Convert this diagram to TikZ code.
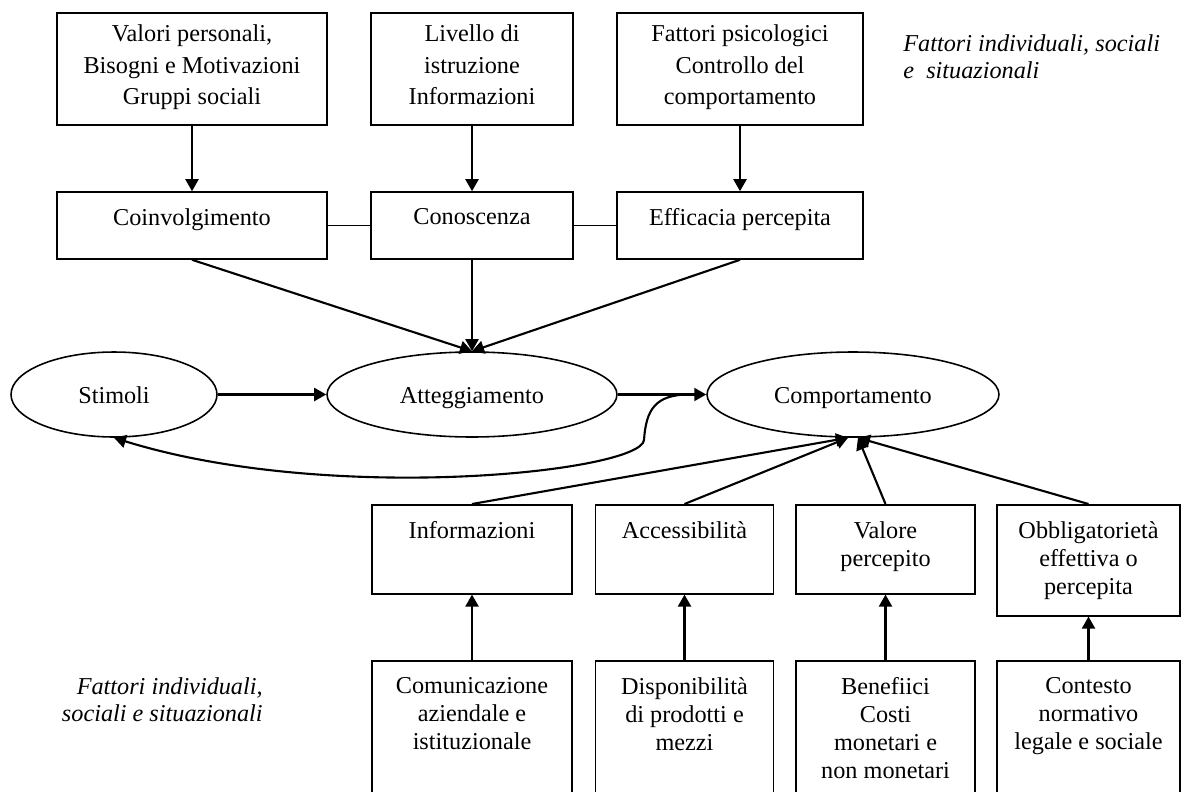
\documentclass[tikz,border=0pt]{standalone}
\usepackage{fontspec}
\setmainfont{Liberation Serif}
\usetikzlibrary{positioning, arrows.meta, shapes, calc}

\begin{document}
\begin{tikzpicture}[
        x=0.02cm, y=-0.02cm,
        factor/.style={rectangle, draw, line width=0.9pt, inner sep=0pt},
        concept/.style={ellipse, draw, line width=0.9pt, inner sep=0pt, minimum height=1.7cm, text height=12pt, text depth=1.5pt, font=\fontsize{13.8}{16}\selectfont},
        boxtext/.style={inner sep=0pt, align=center, font=\fontsize{13.8}{16}\selectfont},
        note/.style={inner sep=0pt, font=\fontsize{13.8}{15.5}\selectfont\itshape},
        link/.style={-{Triangle[length=0.24cm, width=0.26cm]}, line width=1.2pt},
        tie/.style={line width=0.9pt}
    ]
    \useasboundingbox (0,0) rectangle (1192,791);
    \clip (0,0) rectangle (1192,791);

    % fattori in alto
    \node[factor, minimum width=5.4cm, minimum height=2.24cm] (valori) at (192,69) {};
    \node[factor, minimum width=4.04cm, minimum height=2.24cm] (livello) at (472,69) {};
    \node[factor, minimum width=4.92cm, minimum height=2.24cm] (psico) at (740,69) {};
    \node[boxtext, font=\fontsize{13.8}{18}\selectfont, below=0.24cm of valori.north] (valori-t) {Valori personali,\\Bisogni e Motivazioni\\Gruppi sociali};
    \node[boxtext, font=\fontsize{13.8}{18}\selectfont, below=0.24cm of livello.north] (livello-t) {Livello di\\istruzione\\Informazioni};
    \node[boxtext, font=\fontsize{13.8}{18}\selectfont, below=0.24cm of psico.north] (psico-t) {Fattori psicologici\\Controllo del\\comportamento};

    \node[factor, minimum width=5.4cm, minimum height=1.34cm] (coinv) at (192,225.5) {};
    \node[factor, minimum width=4.04cm, minimum height=1.34cm] (conosc) at (472,225.5) {};
    \node[factor, minimum width=4.92cm, minimum height=1.34cm] (effic) at (740,225.5) {};
    \node[boxtext, below=0.34cm of coinv.north] (coinv-t) {Coinvolgimento};
    \node[boxtext, below=0.34cm of conosc.north] (conosc-t) {Conoscenza};
    \node[boxtext, below=0.34cm of effic.north] (effic-t) {Efficacia percepita};

    \node[note, anchor=north west, align=left] (fattori-a) at (903,34) {Fattori individuali, sociali\\e\ \ situazionali};

    % ellissi
    \node[concept, minimum width=4.12cm] (stimoli) at (114,394.5) {Stimoli};
    \node[concept, minimum width=5.8cm] (attegg) at (472,394.5) {Atteggiamento};
    \node[concept, minimum width=5.84cm] (comport) at (853,394.5) {Comportamento};

    % fattori in basso
    \foreach \n/\x/\w/\h/\txt in {
        info/472/4.0/1.78/{Informazioni},
        acce/684.5/3.56/1.78/{Accessibilità},
        valo/885.5/3.58/1.78/{Valore\\percepito},
        obbl/1088.5/3.66/2.22/{Obbligatorietà\\effettiva o\\percepita}} {
        \node[factor, minimum width=\w cm, minimum height=\h cm, anchor=north] (\n) at (\x,504) {};
        \node[boxtext, below=0.34cm of \n.north] (\n-t) {\txt};
    }
    \foreach \n/\x/\w/\txt in {
        comu/472/4.0/{Comunicazione\\aziendale e\\istituzionale},
        disp/684.5/3.56/{Disponibilità\\di prodotti e\\mezzi},
        bene/885.5/3.58/{Benefiici\\Costi\\monetari e\\non monetari},
        cont/1088.5/3.66/{Contesto\\normativo\\legale e sociale}} {
        \node[factor, minimum width=\w cm, minimum height=3.2cm, anchor=north] (\n) at (\x,660) {};
        \node[boxtext, below=0.34cm of \n.north] (\n-t) {\txt};
    }

    \node[note, anchor=north east, align=right] (fattori-b) at (263,677) {Fattori individuali,\\sociali e situazionali};

    % collegamenti
    \draw[link] (valori) -- (coinv);
    \draw[link] (livello) -- (conosc);
    \draw[link] (psico) -- (effic);
    \draw[tie] (coinv) -- (conosc);
    \draw[tie] (conosc) -- (effic);
    \draw[link] (coinv.south) -- (attegg.north);
    \draw[link] (conosc.south) -- (attegg.north);
    \draw[link] (effic.south) -- (attegg.north);

    \draw[link] (stimoli) -- (attegg);
    \draw[link] (attegg) -- (comport);
    \coordinate (ritorno) at ([xshift=-0.34cm]comport.west);
    \draw[link] (ritorno) .. controls (655,394.5) and (646,410) .. (644,440)
        .. controls (641,472) and (330,505) .. (stimoli.south);

    \coordinate (cin) at ([xshift=-0.1cm]comport.south);
    \coordinate (cde) at ([xshift=0.1cm]comport.south);
    \draw[link] (info.north) -- (cin);
    \draw[link] (acce.north) -- (cin);
    \draw[link] (valo.north) -- (cde);
    \draw[link] (obbl.north) -- (cde);
    \foreach \a/\b in {comu/info, disp/acce, bene/valo, cont/obbl} {
        \draw[link] (\a) -- (\b);
    }
\end{tikzpicture}
\end{document}
